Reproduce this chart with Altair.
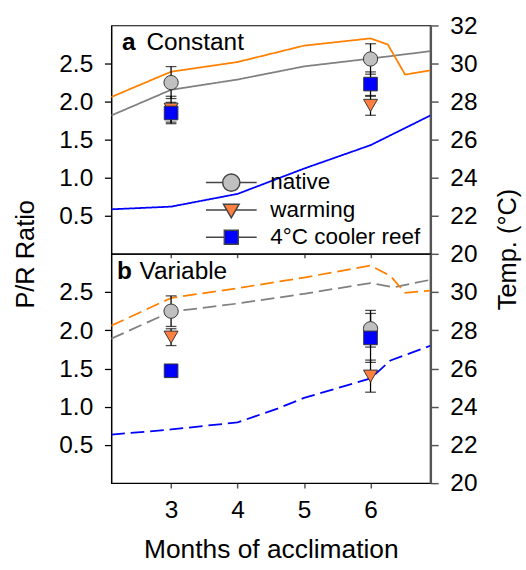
import altair as alt
import pandas as pd

# ---------------- data ----------------
series = ["native", "warming", "4°C cooler reef"]
months = [3, 6]

# Panel a (Constant) P/R ratio, mean and error
a_native = [2.25, 2.56]
a_native_err = [0.21, 0.20]
a_warming = [1.90, 1.95]
a_warming_err = [0.17, 0.13]
a_cooler = [1.85, 2.23]
a_cooler_err = [0.14, 0.16]

# Panel b (Variable)
b_native = [2.25, 2.02]
b_native_err = [0.20, 0.24]
b_warming = [1.91, 1.40]
b_warming_err = [0.11, 0.21]
b_cooler = [1.47, 1.90]
b_cooler_err = [0.03, 0.32]

# Temperature profiles (right axis)
a_warm_m = [2.1, 3, 4, 5, 6, 6.26, 6.52, 6.9]
a_warm_t = [28.24, 29.57, 30.08, 30.94, 31.32, 31.0, 29.42, 29.64]
a_nat_m = [2.1, 3, 4, 5, 6, 6.9]
a_nat_t = [27.27, 28.62, 29.16, 29.85, 30.26, 30.65]
a_cool_m = [2.1, 3, 4, 5, 6, 6.9]
a_cool_t = [22.34, 22.48, 23.15, 24.48, 25.71, 27.27]

b_warm_m = [2.1, 3, 4, 5, 6, 6.3, 6.52, 6.9]
b_warm_t = [28.24, 29.69, 30.2, 30.76, 31.39, 30.84, 29.96, 30.08]
b_nat_m = [2.1, 3, 4, 5, 6, 6.35, 6.9]
b_nat_t = [27.56, 28.97, 29.4, 29.91, 30.47, 30.25, 30.64]
b_cool_m = [2.1, 3, 4, 4.6, 5, 6, 6.3, 6.9]
b_cool_t = [22.54, 22.81, 23.18, 23.9, 24.46, 25.48, 26.42, 27.19]

x_ticks = [3, 4, 5, 6]
pr_ticks = [0.5, 1.0, 1.5, 2.0, 2.5]
a_temp_ticks = [20, 22, 24, 26, 28, 30, 32]
b_temp_ticks = [20, 22, 24, 26, 28, 30]

# ---------------- styling ----------------
FONT = "Liberation Sans"
line_colors = ["#808080", "#FF8000", "#0000FF"]
marker_fills = ["#C0C0C0", "#FF7F40", "#0000FF"]
marker_shapes = ["circle", "triangle-down", "square"]
marker_sizes = [215, 205, 195]
legend_strokes = ["#444444", "#444444", "#444444"]
legend_paths = [
    "M-2,0H-0.68M0.68,0H2M0.68,0A0.68,0.68,0,1,1,-0.68,0A0.68,0.68,0,1,1,0.68,0Z",
    "M-2,0H-0.36M0.36,0H2M-0.62,-0.45L0.62,-0.45L0,0.62Z",
    "M-2,0H-0.55M0.55,0H2M-0.55,-0.55H0.55V0.55H-0.55Z",
]


def pts_frame(vals):
    rows = []
    for s, (m_list, e_list) in zip(series, vals):
        for mo, v, e in zip(months, m_list, e_list):
            rows.append({"series": s, "month": mo, "pr": v, "lo": v - e, "hi": v + e})
    return pd.DataFrame(rows)


def temp_frame(ms, ts):
    return pd.DataFrame({"month": ms, "temp": ts, "idx": list(range(len(ms)))})


pts_a = pts_frame([(a_native, a_native_err), (a_warming, a_warming_err), (a_cooler, a_cooler_err)])
pts_b = pts_frame([(b_native, b_native_err), (b_warming, b_warming_err), (b_cooler, b_cooler_err)])
tmp_a = [temp_frame(a_nat_m, a_nat_t), temp_frame(a_warm_m, a_warm_t), temp_frame(a_cool_m, a_cool_t)]
tmp_b = [temp_frame(b_nat_m, b_nat_t), temp_frame(b_warm_m, b_warm_t), temp_frame(b_cool_m, b_cool_t)]


def panel(pts, tmps, temp_ticks, dash, bold_lbl, lbl, lbl_pos, bottom, legend, height):
    xsc = alt.Scale(domain=[2.1, 6.9], nice=False, zero=False)
    if bottom:
        xaxis = alt.Axis(values=x_ticks, format="d", labelFontSize=25, tickSize=5,
                         tickColor="#555", tickWidth=1.5, domain=False, labelPadding=10,
                         title="Months of acclimation", titleFontSize=27, titlePadding=15,
                         titleFontWeight="normal", grid=False)
    else:
        xaxis = alt.Axis(values=x_ticks, labels=False, tickSize=4, tickColor="#555",
                         tickWidth=1.5, domain=False, title=None, grid=False)
    xenc = alt.X("month:Q", scale=xsc, axis=xaxis)

    ysc = alt.Scale(domain=[0, 3], nice=False, zero=False)
    left_kw = dict(values=pr_ticks, format=".1f", orient="left", labelFontSize=25,
                   tickSize=7, tickColor="black", tickWidth=1.3, domainColor="black",
                   domainWidth=1.3, labelPadding=12, grid=False)
    if bottom:
        left_axis = alt.Axis(title="P/R Ratio", titleY=0, titleFontSize=26,
                             titleFontWeight="normal", titlePadding=21, **left_kw)
    else:
        left_axis = alt.Axis(title=None, **left_kw)

    tsc = alt.Scale(domain=[20, 32], nice=False, zero=False)
    right_kw = dict(values=temp_ticks, format="d", orient="right", labelFontSize=25,
                    tickSize=8, tickColor="#555", tickWidth=1.5, domainColor="#555",
                    domainWidth=2.5, labelPadding=12, grid=False)
    if bottom:
        right_axis = alt.Axis(title="Temp. (°C)", titleY=-5, titleAngle=270,
                              titleBaseline="top", titleFontSize=26,
                              titleFontWeight="normal", titlePadding=18, **right_kw)
    else:
        right_axis = alt.Axis(title=None, **right_kw)

    line_layers = []
    for tdf, col in zip(tmps, line_colors):
        line_layers.append(
            alt.Chart(tdf).mark_line(strokeWidth=1.8, strokeDash=dash, clip=True, color=col).encode(
                x=xenc, y=alt.Y("temp:Q", scale=tsc, axis=right_axis), order="idx:Q")
        )
    lines = alt.layer(*line_layers)

    rules = alt.Chart(pts).mark_rule(color="black", strokeWidth=1.3).encode(
        x=xenc, y=alt.Y("lo:Q", scale=ysc, axis=left_axis), y2="hi:Q")
    caps = alt.Chart(pts).transform_fold(["lo", "hi"], as_=["k", "v"]).mark_tick(
        orient="horizontal", size=11, thickness=1.3, color="black").encode(
        x=xenc, y=alt.Y("v:Q", scale=ysc, axis=left_axis))

    layers = [rules, caps]
    for s, shp, fc, sz in zip(series, marker_shapes, marker_fills, marker_sizes):
        layers.append(
            alt.Chart(pts).transform_filter(alt.datum.series == s).mark_point(
                shape=shp, filled=True, fill=fc, stroke="#333", strokeWidth=1,
                size=sz, opacity=1).encode(
                x=xenc, y=alt.Y("pr:Q", scale=ysc, axis=left_axis))
        )

    lab_df = pd.DataFrame({"t": [bold_lbl]})
    lab_df2 = pd.DataFrame({"t": [lbl]})
    layers.append(alt.Chart(lab_df).mark_text(fontSize=25, fontWeight="bold", font=FONT,
                                              align="left", baseline="alphabetic", color="black").encode(
        x=alt.value(lbl_pos[0]), y=alt.value(lbl_pos[2]), text="t:N"))
    layers.append(alt.Chart(lab_df2).mark_text(fontSize=25, font=FONT, align="left",
                                               baseline="alphabetic", color="black").encode(
        x=alt.value(lbl_pos[1]), y=alt.value(lbl_pos[2]), text="t:N"))

    if legend:
        leg = alt.Legend(title=None, orient="none", legendX=109, legendY=147,
                         labelFontSize=23, labelFont=FONT, labelOffset=26,
                         symbolSize=676, rowPadding=2, padding=0,
                         symbolStrokeWidth=1.5, symbolOpacity=1,
                         labelColor="black")
        layers.append(
            alt.Chart(pts).transform_filter("false").mark_point(
                filled=True, size=676, opacity=1, strokeWidth=1.5, clip=True).encode(
                x=xenc, y=alt.Y("pr:Q", scale=ysc, axis=left_axis),
                shape=alt.Shape("series:N", scale=alt.Scale(domain=series, range=legend_paths), legend=leg),
                fill=alt.Fill("series:N", scale=alt.Scale(domain=series, range=marker_fills), legend=leg),
                stroke=alt.Stroke("series:N", scale=alt.Scale(domain=series, range=legend_strokes), legend=leg),
            )
        )

    pts_layer = alt.layer(*layers)
    return alt.layer(lines, pts_layer).resolve_scale(y="independent").properties(
        width=327, height=height)


pa = panel(pts_a, tmp_a, a_temp_ticks, [1, 0], "a", "Constant", (11, 36, 25), False, True, 234)
pb = panel(pts_b, tmp_b, b_temp_ticks, [14, 6], "b", "Variable", (6, 29, 26), True, False, 235)

chart = alt.vconcat(pa, pb, spacing=0, bounds="flush").properties(
    padding={"left": 12, "top": 6, "right": 5, "bottom": 5}
).configure(font=FONT).configure_view(stroke="black", strokeWidth=1.2).configure_axis(
    grid=False, labelFont=FONT, titleFont=FONT, labelColor="black", titleColor="black"
)

chart.save("out.html", embed_options={"renderer": "svg", "actions": False})
